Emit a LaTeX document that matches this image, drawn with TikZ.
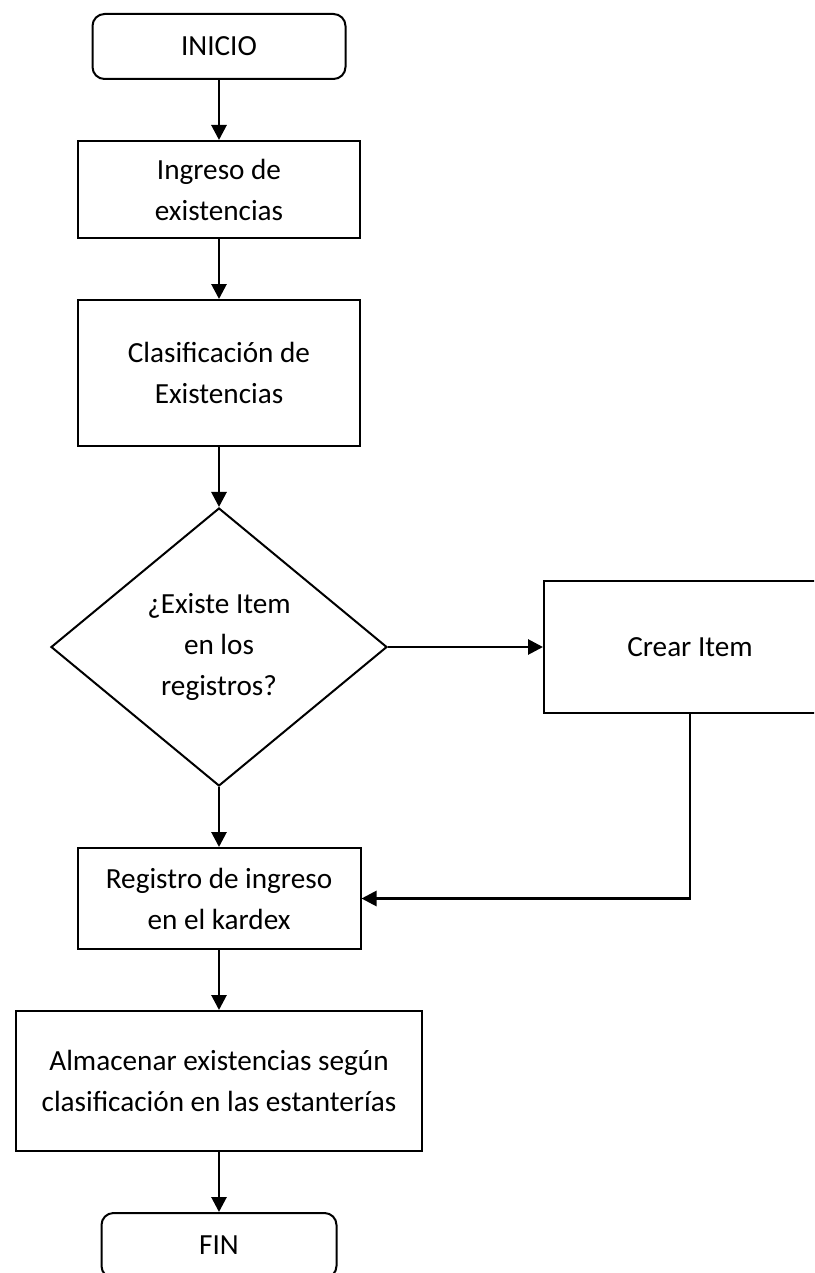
\documentclass[tikz,border=0pt]{standalone}
\usepackage{fontspec}
\setmainfont{Carlito}
\usepackage{tikz}
\usetikzlibrary{arrows.meta, positioning, shapes.geometric}
\tikzset{every node/.style={font=\fontsize{14.6}{20.5}\selectfont}, >={Triangle[length=7.5pt, width=7.5pt]}}
\tikzset{
    proceso/.style={draw, line width=1pt, align=center, inner sep=0pt},
    terminal/.style={proceso, rounded corners=6pt},
    decision/.style={draw, diamond, line width=1pt, align=center, inner sep=0pt, aspect=1.2},
    conector/.style={->, line width=1.4pt}
}

\begin{document}
\begin{tikzpicture}[x=0.5pt, y=-0.5pt, node distance=30pt]
    \useasboundingbox (0,0) rectangle (814,1273);
    \clip (0,0) rectangle (814,1273);

    \node [terminal, minimum width=126.5pt, minimum height=32.5pt] (inicio) at (219,46.5) {INICIO};
    \node [
        proceso,
        minimum width=141pt,
        minimum height=48.5pt,
        below=of inicio
    ] (ingreso) {Ingreso de\\existencias};
    \node [
        proceso,
        minimum width=141pt,
        minimum height=73pt,
        below=of ingreso
    ] (clasif) {Clasificación de\\Existencias};
    \node [
        decision,
        minimum width=168pt,
        minimum height=139pt,
        below=of clasif
    ] (existe) {¿Existe Item\\en los\\registros?};
    \node [
        proceso,
        minimum width=146pt,
        minimum height=66pt,
        right=77.5pt of existe
    ] (crear) {Crear Item};
    \node [
        proceso,
        minimum width=141.5pt,
        minimum height=50.5pt,
        below=of existe
    ] (registro) {Registro de ingreso\\en el kardex};
    \node [
        proceso,
        minimum width=203pt,
        minimum height=70pt,
        below=of registro
    ] (almacenar) {Almacenar existencias según\\clasificación en las estanterías};
    \node [terminal, minimum width=117.5pt, minimum height=32.5pt, below=of almacenar] (fin) {FIN};

    \draw [conector] (inicio) -- (ingreso);
    \draw [conector] (ingreso) -- (clasif);
    \draw [conector] (clasif) -- (existe);
    \draw [conector] (existe) -- (crear);
    \draw [conector] (existe) -- (registro);
    \draw [conector] (crear.south) |- (registro);
    \draw [conector] (registro) -- (almacenar);
    \draw [conector] (almacenar) -- (fin);
\end{tikzpicture}
\end{document}
